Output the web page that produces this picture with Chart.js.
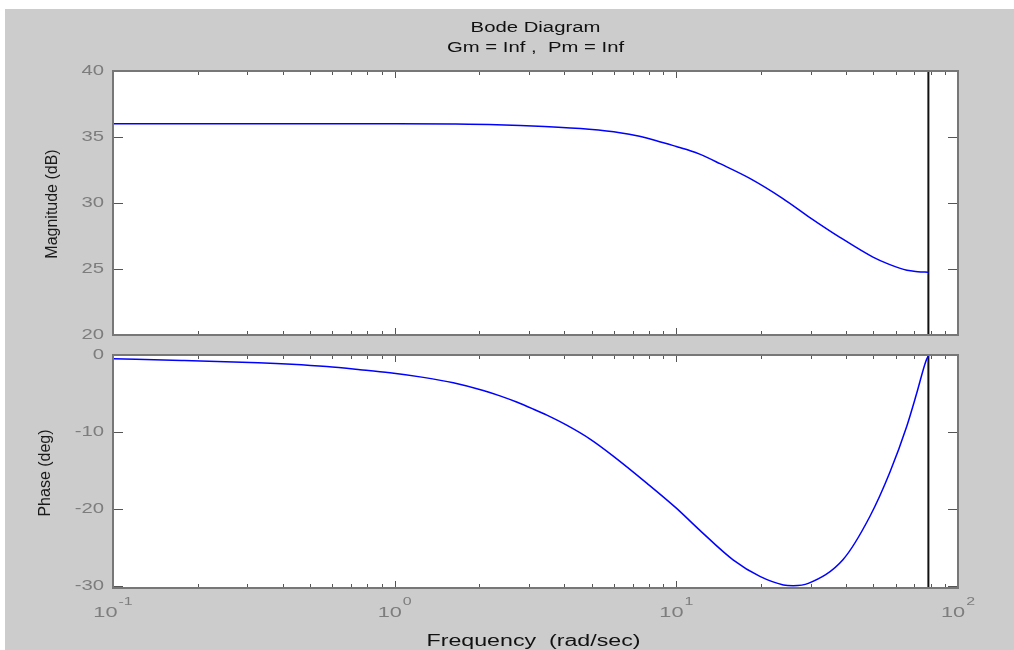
<!DOCTYPE html>
<html>
<head>
<meta charset="utf-8">
<title>Bode Diagram</title>
<script src="https://cdn.jsdelivr.net/npm/chart.js@4/dist/chart.umd.min.js"></script>
<style>
  html, body { margin:0; padding:0; background:#fff; }
  #fig { position:absolute; left:5px; top:9px; width:1009px; height:641px; background:#cccccc; }
  canvas { position:absolute; left:0; }
  #magCanvas { top:0; }
  #phaseCanvas { top:345px; }
</style>
</head>
<body>
<div id="fig"></div>
<canvas id="magCanvas" width="1014" height="345"></canvas>
<canvas id="phaseCanvas" width="1014" height="305"></canvas>
<script>
// ---- values ----
const FREQ_TICKS = [0.1, 1, 10, 100];
const FREQ_TICK_EXP = ['-1', '0', '1', '2'];
const MINOR_STEPS = [2, 3, 4, 5, 6, 7, 8, 9];
const MAG_TICKS = [20, 25, 30, 35, 40];
const PHASE_TICKS = [-30, -20, -10, 0];
const NYQUIST = 78.5;

const MAG_FREQ = [0.1, 0.5, 1, 1.6, 2.3, 3.4, 4.9, 6.3, 7.4, 8.5, 10, 11.2, 12.1, 14.3, 18.3, 23.9, 29.8, 38.1, 49.9, 57, 65.9, 72, 78.5];
const MAG_DB   = [36.0, 36.0, 36.0, 35.98, 35.93, 35.79, 35.58, 35.33, 35.05, 34.72, 34.28, 33.96, 33.7, 32.98, 31.85, 30.34, 28.9, 27.4, 25.9, 25.35, 24.9, 24.8, 24.75];

const PHASE_FREQ = [0.1, 0.175, 0.328, 0.431, 0.574, 0.753, 0.962, 1.264, 1.615, 2.063, 2.365, 2.71, 3.10, 3.47, 4.08, 4.94, 5.97, 7.85, 10.0, 12.1, 15.9, 19.8, 24.0, 26.0, 29.4, 39.1, 48.7, 57.3, 65.7, 71.3, 76.9, 78.5];
const PHASE_DEG  = [-0.5, -0.7, -1.0, -1.2, -1.5, -1.9, -2.3, -2.9, -3.6, -4.6, -5.3, -6.1, -7.0, -7.8, -9.1, -10.9, -13.1, -16.6, -19.85, -22.7, -26.55, -28.7, -29.8, -29.9, -29.6, -26.5, -20.9, -15.2, -9.3, -5.0, -0.8, -0.1];

// ---- drawing helpers ----
const FONT = 'Liberation Sans, Arial, sans-serif';
const SX = 1.45; // text in the reference is stretched sideways

function wideText(ctx, text, x, y, size, color, align){
  ctx.save();
  ctx.font = size + 'px ' + FONT;
  ctx.fillStyle = color;
  ctx.textBaseline = 'middle';
  ctx.textAlign = 'left';
  const w = ctx.measureText(text).width * SX;
  const left = align === 'right' ? x - w : (align === 'center' ? x - w/2 : x);
  ctx.translate(left, y);
  ctx.scale(SX, 1);
  ctx.fillText(text, 0, 0);
  ctx.restore();
  return w;
}

function textWidth(ctx, text, size){
  ctx.save(); ctx.font = size + 'px ' + FONT;
  const w = ctx.measureText(text).width * SX;
  ctx.restore(); return w;
}

const framePlugin = {
  id: 'frame',
  beforeDatasetsDraw(chart){
    const {ctx, chartArea:a} = chart;
    ctx.save(); ctx.fillStyle = '#fff';
    ctx.fillRect(a.left, a.top, a.width, a.height);
    ctx.restore();
  },
  afterDraw(chart, args, o){
    const {ctx, chartArea:a, scales:{x, y}} = chart;
    ctx.save();
    // tick marks, inside the box on all four sides
    ctx.strokeStyle = '#555'; ctx.lineWidth = 1;
    ctx.beginPath();
    const vTick = (px, len) => {
      px = Math.round(px) + 0.5;
      ctx.moveTo(px, a.bottom); ctx.lineTo(px, a.bottom - len);
      ctx.moveTo(px, a.top); ctx.lineTo(px, a.top + len);
    };
    FREQ_TICKS.forEach((d, i) => {
      vTick(x.getPixelForValue(d), 7);
      if(i < FREQ_TICKS.length - 1) MINOR_STEPS.forEach(m => vTick(x.getPixelForValue(d*m), 4));
    });
    o.yTicks.forEach(v => {
      const py = Math.round(y.getPixelForValue(v)) + 0.5;
      ctx.moveTo(a.left, py); ctx.lineTo(a.left + 10, py);
      ctx.moveTo(a.right, py); ctx.lineTo(a.right - 10, py);
    });
    ctx.stroke();
    // box
    ctx.strokeStyle = '#777'; ctx.lineWidth = 2;
    ctx.strokeRect(a.left, a.top, a.width, a.height);
    ctx.restore();

    // y tick labels
    o.yTicks.forEach(v => wideText(ctx, String(v), a.left - 9, y.getPixelForValue(v), 14, '#7d7d7d', 'right'));

    // y axis title
    ctx.save();
    ctx.font = '16px ' + FONT; ctx.fillStyle = '#1a1a1a';
    ctx.textAlign = 'center'; ctx.textBaseline = 'middle';
    ctx.translate(o.yTitleX, o.yTitleY); ctx.rotate(-Math.PI/2);
    ctx.fillText(o.yTitle, 0, 0);
    ctx.restore();

    // x tick labels, 10 with a raised exponent
    if(o.xLabels){
      FREQ_TICKS.forEach((d, i) => {
        const px = x.getPixelForValue(d);
        const w10 = textWidth(ctx, '10', 15), wE = textWidth(ctx, FREQ_TICK_EXP[i], 11);
        const start = px - (w10 + wE + 1)/2;
        wideText(ctx, '10', start, o.xLabelY, 15, '#7d7d7d', 'left');
        wideText(ctx, FREQ_TICK_EXP[i], start + w10 + 1, o.xLabelY - 11, 11, '#7d7d7d', 'left');
      });
      wideText(ctx, 'Frequency  (rad/sec)', (a.left + a.right)/2 - 2, o.xTitleY, 16, '#111', 'center');
    }
    if(o.title){
      wideText(ctx, 'Bode Diagram', (a.left + a.right)/2, 28, 14, '#111', 'center');
      wideText(ctx, 'Gm = Inf ,  Pm = Inf', (a.left + a.right)/2, 48, 14, '#111', 'center');
    }
  }
};

function curve(xs, ys){ return xs.map((f, i) => ({x:f, y:ys[i]})); }

function makeChart(id, data, yMin, yMax, frame, padding){
  return new Chart(document.getElementById(id), {
    type: 'line',
    data: {
      datasets: [
        { data, borderColor:'#0000ff', borderWidth:1.5, pointRadius:0, cubicInterpolationMode:'monotone', fill:false },
        { data:[{x:NYQUIST, y:yMin}, {x:NYQUIST, y:yMax}], borderColor:'#111', borderWidth:2, pointRadius:0, tension:0 }
      ]
    },
    options: {
      responsive:false, animation:false, devicePixelRatio:1,
      layout:{ padding },
      plugins:{ legend:{display:false}, tooltip:{enabled:false}, title:{display:false}, frame },
      scales:{
        x:{ type:'logarithmic', min:FREQ_TICKS[0], max:FREQ_TICKS[FREQ_TICKS.length-1], display:false },
        y:{ type:'linear', min:yMin, max:yMax, display:false }
      }
    },
    plugins:[framePlugin]
  });
}

makeChart('magCanvas', curve(MAG_FREQ, MAG_DB), 20, 40,
  { yTicks:MAG_TICKS, yTitle:'Magnitude (dB)', yTitleX:53, yTitleY:204, title:true, xLabels:false },
  { left:113, right:56, top:71, bottom:10 });

makeChart('phaseCanvas', curve(PHASE_FREQ, PHASE_DEG), -30.2, 0,
  { yTicks:PHASE_TICKS, yTitle:'Phase (deg)', yTitleX:46, yTitleY:128, title:false, xLabels:true, xLabelY:268, xTitleY:297 },
  { left:113, right:56, top:10, bottom:62 });
</script>
</body>
</html>
